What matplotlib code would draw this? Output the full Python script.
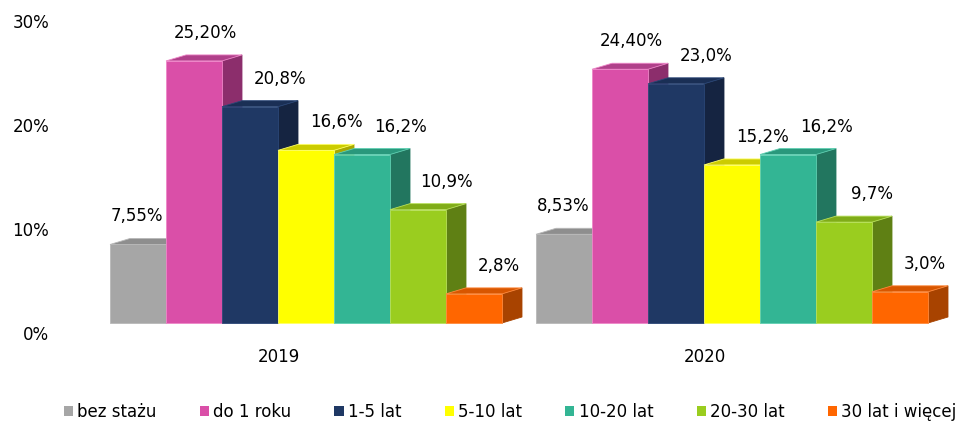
import matplotlib
matplotlib.use('Agg')
import matplotlib.pyplot as plt
from matplotlib.patches import Polygon, Rectangle, Patch
from matplotlib.transforms import ScaledTranslation

# ---- data ----
years = ['2019', '2020']
series = ['bez stażu', 'do 1 roku', '1-5 lat', '5-10 lat', '10-20 lat', '20-30 lat', '30 lat i więcej']
values_2019 = [7.55, 25.20, 20.8, 16.6, 16.2, 10.9, 2.8]
values_2020 = [8.53, 24.40, 23.0, 15.2, 16.2, 9.7, 3.0]
labels_2019 = ['7,55%', '25,20%', '20,8%', '16,6%', '16,2%', '10,9%', '2,8%']
labels_2020 = ['8,53%', '24,40%', '23,0%', '15,2%', '16,2%', '9,7%', '3,0%']
yticks = [0, 10, 20, 30]
ytick_labels = ['0%', '10%', '20%', '30%']

# ---- styles ----
front = ['#A6A6A6', '#DA4FA8', '#1F3864', '#FFFF00', '#33B594', '#9ACD1F', '#FF6600']
top = ['#8E8E8E', '#B0408A', '#1A2F55', '#CCCC00', '#2A987C', '#80AC18', '#D85600']
side = ['#7A7A7A', '#8C2E6C', '#152441', '#A8A800', '#22765F', '#5F8014', '#A84300']
edge = ['#B8B8B8', '#EE86C8', '#2A4676', '#FFFF66', '#5FD0B2', '#B8E05A', '#FF8A3D']
label_dx_px = [-1, 11, 30, 30, 38, 28, 25]
label_dy_px = 28

W, H, DPI = 974, 428, 100
fig = plt.figure(figsize=(W / DPI, H / DPI), dpi=DPI)
ax = fig.add_axes([100 / W, (H - 323) / H, 874 / W, 312 / H])
ax.set_ylim(0, 30)
ax.set_xlim((100 - 306) / 426, (974 - 306) / 426)

BW = 56 / 426           # bar width in category units
DX = 20 / 426           # 3D depth, horizontal
DY = 6 / 10.4           # 3D depth, vertical (in %)

z = 2
for g, (vals, labs) in enumerate([(values_2019, labels_2019), (values_2020, labels_2020)]):
    n = len(vals)
    for i, (v, lab) in enumerate(zip(vals, labs)):
        xc = g + (i - (n - 1) / 2) * BW
        x0, x1 = xc - BW / 2, xc + BW / 2
        sp = Polygon([(x1, 0), (x1 + DX, DY), (x1 + DX, v + DY), (x1, v)], closed=True,
                     facecolor=side[i], edgecolor=side[i], lw=0.6, zorder=z, clip_on=False)
        tp = Polygon([(x0, v), (x1, v), (x1 + DX, v + DY), (x0 + DX, v + DY)], closed=True,
                     facecolor=top[i], edgecolor=edge[i], lw=0.6, zorder=z + 1, clip_on=False)
        fr = Rectangle((x0, 0), BW, v, facecolor=front[i], edgecolor=edge[i], lw=0.6,
                       zorder=z + 2, clip_on=False)
        ax.add_patch(sp)
        ax.add_patch(tp)
        ax.add_patch(fr)
        z += 3
        ax.annotate(lab, xy=(xc, v), xytext=(label_dx_px[i] * 72 / DPI, label_dy_px * 72 / DPI),
                    textcoords='offset points', ha='center', va='center', fontsize=12,
                    color='#000000', zorder=200)

for s in ax.spines.values():
    s.set_visible(False)

ax.set_yticks(yticks, ytick_labels)
ax.tick_params(axis='y', length=0, pad=51 * 72 / DPI, labelsize=12, colors='#000000')
ax.set_xticks(range(len(years)), years)
ax.tick_params(axis='x', length=0, pad=18, labelsize=12, colors='#000000')
for t in ax.get_yticklabels():
    t.set_transform(t.get_transform() + ScaledTranslation(0, -10 / DPI, fig.dpi_scale_trans))
for t in ax.get_xticklabels():
    t.set_transform(t.get_transform() + ScaledTranslation(-27 / DPI, 0, fig.dpi_scale_trans))

handles = [Patch(facecolor=c, edgecolor='none') for c in front]
fig.legend(handles, series, loc='center', bbox_to_anchor=(510 / W, 16 / H), ncol=7,
           frameon=False, handlelength=0.55, handleheight=0.55, handletextpad=0.25,
           columnspacing=2.6, fontsize=12)

fig.savefig('out.png', dpi=DPI)
